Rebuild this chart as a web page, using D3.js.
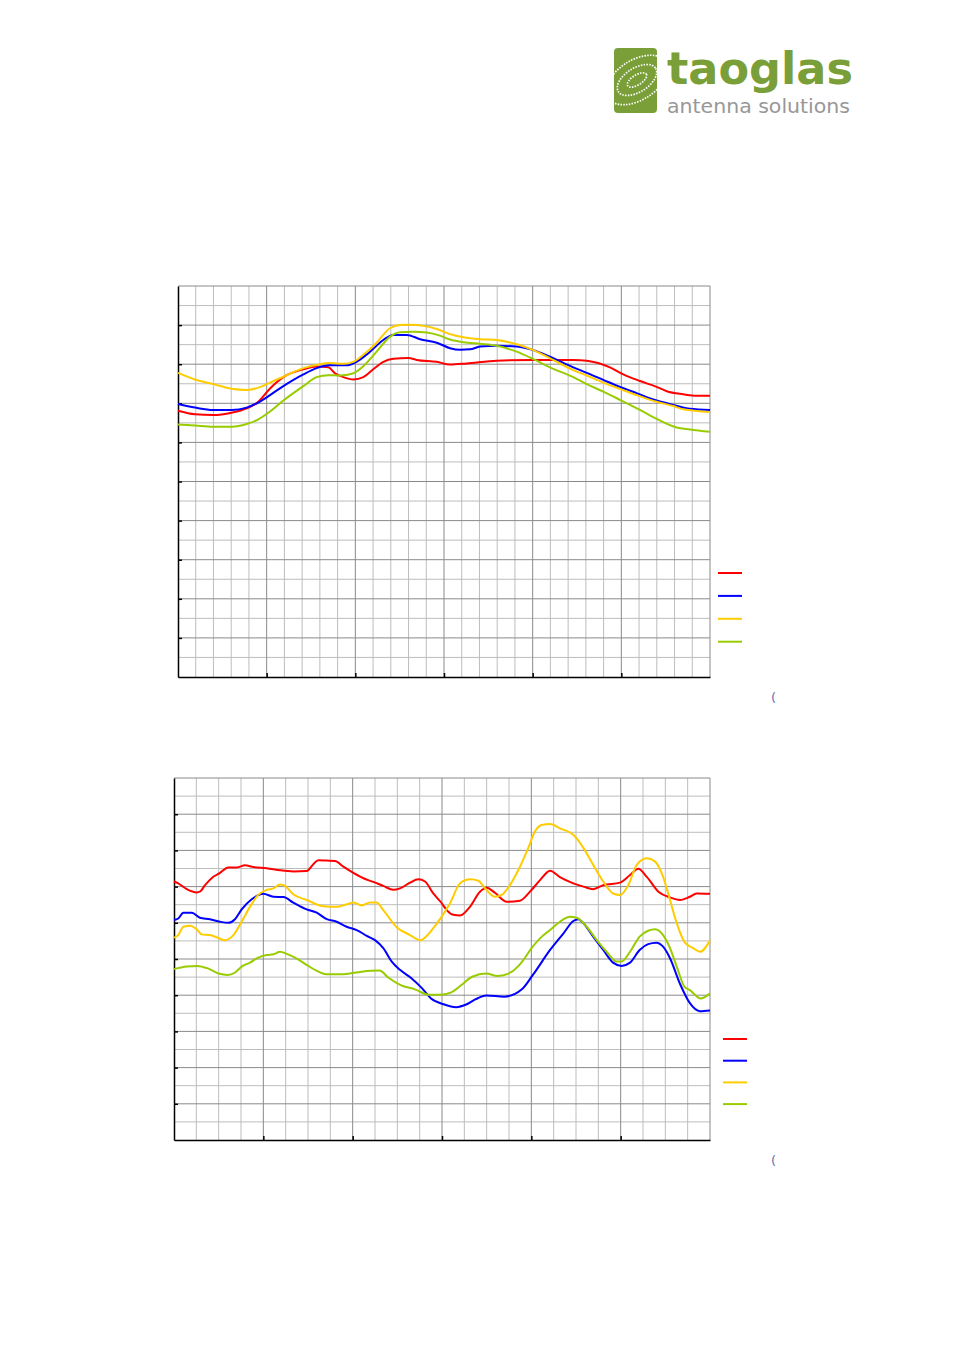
<!DOCTYPE html>
<html><head><meta charset="utf-8">
<script src="https://cdn.jsdelivr.net/npm/d3@7"></script>
<style>body{margin:0;background:#fff}svg{display:block}</style>
</head><body>
<svg id="c" width="954" height="1350"></svg>
<script>
// ---------- Chart 1 data (x: grid columns 0..30, y: 0..100) ----------
const c1Red = [[0,68.1],[0.96,67.2],[1.99,67.0],[3.03,67.6],[3.87,68.7],[4.53,70.4],[5.19,73.8],[5.94,76.7],[7.07,78.7],[7.82,79.4],[8.48,79.2],[8.85,77.7],[9.32,76.7],[9.89,76.1],[10.45,76.7],[11.01,78.7],[11.58,80.6],[12.14,81.4],[12.99,81.6],[13.46,81.1],[14.59,80.6],[15.34,79.9],[16.28,80.2],[17.97,80.9],[20.04,81.1],[22.29,81.1],[23.05,80.9],[24.36,79.2],[25.11,77.4],[26.05,75.7],[26.99,74.2],[27.56,73.1],[28.49,72.3],[29.25,71.9],[30,71.9]];
const c1Blue = [[0,69.8],[0.96,68.9],[1.99,68.3],[3.03,68.3],[3.87,68.9],[4.53,70.2],[5.19,72.1],[5.94,74.4],[7.07,77.4],[7.82,79.0],[8.56,79.7],[9.5,79.7],[9.98,80.4],[10.83,83.2],[11.58,86.2],[12.14,87.5],[12.9,87.5],[13.65,86.4],[14.59,85.5],[15.34,84.1],[15.9,83.7],[16.47,83.8],[17.03,84.5],[17.97,84.7],[19.1,84.5],[20.04,83.6],[20.98,81.9],[22.29,79.2],[23.05,77.8],[23.98,76.0],[24.92,74.2],[25.86,72.6],[26.99,70.7],[27.93,69.6],[28.87,68.6],[30,68.3]];
const c1Yellow = [[0,77.8],[0.96,76.1],[1.99,74.9],[3.03,73.7],[3.87,73.4],[4.53,74.0],[5.19,75.3],[5.94,76.8],[7.07,79.0],[7.82,79.8],[8.56,80.3],[9.32,80.1],[9.89,80.6],[10.45,82.4],[11.2,85.5],[11.95,89.2],[12.52,90.0],[13.08,90.1],[13.84,89.8],[14.59,89.0],[15.34,87.7],[16.09,86.9],[17.03,86.4],[17.97,86.2],[19.1,85.1],[20.04,83.6],[20.98,81.5],[22.29,78.5],[23.05,77.1],[23.98,75.3],[24.92,73.7],[25.86,72.1],[26.99,70.4],[27.93,69.3],[28.49,68.5],[30,67.8]];
const c1Green = [[0,64.6],[0.96,64.3],[1.99,64.0],[3.03,64.0],[3.87,64.7],[4.53,65.9],[5.19,67.9],[5.94,70.7],[7.07,74.4],[7.82,76.7],[8.48,77.2],[9.13,77.1],[9.89,77.7],[10.45,79.5],[11.2,83.2],[11.95,87.0],[12.52,88.2],[13.27,88.3],[14.02,88.1],[14.77,87.3],[15.34,86.3],[16.09,85.6],[17.03,85.2],[17.97,84.7],[19.1,83.2],[20.04,81.3],[20.98,79.2],[22.29,76.7],[23.05,74.9],[23.98,73.0],[24.92,70.9],[26.05,68.3],[26.99,66.0],[28.12,63.8],[28.87,63.3],[30,62.7]];

// ---------- Chart 2 data (x: grid columns 0..24, y: 0..100) ----------
const c2Red = [[0,71.4],[0.19,70.9],[0.57,69.3],[1.02,68.4],[1.16,68.6],[1.39,70.4],[1.76,72.7],[2.06,73.8],[2.43,75.3],[2.81,75.3],[3.18,75.9],[3.55,75.4],[4.15,75.1],[4.75,74.5],[5.34,74.2],[5.94,74.3],[6.24,76.2],[6.46,77.3],[6.84,77.2],[7.21,77.1],[7.58,75.5],[8.03,73.8],[8.48,72.3],[8.92,71.3],[9.37,70.2],[9.82,69.1],[10.12,69.5],[10.57,71.1],[10.94,72.0],[11.24,71.4],[11.61,68.1],[11.99,65.4],[12.21,63.5],[12.51,62.2],[12.81,62.0],[13.25,64.4],[13.7,68.6],[14.0,69.7],[14.37,68.3],[14.9,65.8],[15.49,66.1],[15.94,68.6],[16.39,71.8],[16.84,74.4],[17.28,72.6],[17.88,70.9],[18.33,70.0],[18.77,69.3],[19.22,70.4],[19.97,71.1],[20.42,73.2],[20.79,74.9],[21.17,72.7],[21.69,68.6],[22.21,67.0],[22.66,66.3],[23.1,67.2],[23.4,68.1],[24,68.0]];
const c2Blue = [[0,60.8],[0.19,61.2],[0.42,62.8],[0.8,62.8],[1.16,61.4],[1.61,61.0],[2.06,60.3],[2.43,60.0],[2.73,61.0],[3.03,63.7],[3.48,66.5],[4.0,68.0],[4.45,67.2],[4.9,67.1],[5.34,65.6],[5.94,63.7],[6.39,62.8],[6.84,61.0],[7.28,60.3],[7.73,58.9],[8.18,58.0],[8.63,56.4],[9.0,55.2],[9.37,53.0],[9.75,49.3],[10.12,47.0],[10.63,44.7],[11.11,41.9],[11.51,39.1],[12.07,37.5],[12.63,36.7],[13.11,37.5],[13.51,38.9],[13.99,39.9],[14.79,39.6],[15.59,41.7],[16.07,45.6],[16.84,52.5],[17.44,57.1],[17.88,60.5],[18.1,61.0],[18.33,59.9],[18.77,56.2],[19.22,52.5],[19.66,49.0],[20.04,48.1],[20.42,49.0],[20.85,52.5],[21.23,54.1],[21.6,54.5],[21.9,53.4],[22.21,50.2],[22.66,43.1],[23.1,37.8],[23.54,35.6],[24,35.8]];
const c2Yellow = [[0,55.9],[0.19,56.6],[0.42,58.9],[0.72,59.2],[1.02,58.2],[1.24,56.8],[1.61,56.6],[1.91,56.0],[2.28,55.2],[2.66,56.6],[3.03,60.3],[3.4,64.4],[3.77,67.7],[4.15,69.1],[4.45,69.5],[4.75,70.6],[4.97,70.2],[5.34,67.9],[5.94,66.3],[6.68,64.6],[7.28,64.4],[7.73,65.1],[8.03,65.6],[8.4,64.8],[8.78,65.6],[9.07,65.6],[9.37,63.5],[9.97,58.8],[10.57,56.6],[11.02,55.2],[11.61,58.5],[11.91,61.0],[12.36,65.4],[12.81,70.9],[13.25,72.0],[13.63,71.6],[13.93,69.5],[14.37,67.2],[14.67,67.7],[15.04,70.4],[15.49,75.5],[15.86,80.6],[16.16,85.2],[16.46,87.0],[16.84,87.3],[17.28,86.1],[17.88,84.3],[18.33,80.7],[18.77,76.0],[19.22,71.4],[19.66,68.1],[19.97,67.7],[20.34,70.4],[20.72,76.0],[21.17,77.8],[21.54,76.9],[21.9,72.7],[22.21,66.3],[22.51,59.9],[22.88,54.5],[23.25,53.0],[23.55,52.0],[24,55.1]];
const c2Green = [[0,47.2],[0.56,47.9],[1.04,48.1],[1.52,47.4],[2.0,46.0],[2.4,45.6],[2.72,46.2],[3.03,47.9],[3.4,49.0],[3.77,50.4],[4.15,51.1],[4.45,51.3],[4.75,52.0],[5.05,51.4],[5.5,50.1],[5.96,48.3],[6.47,46.5],[6.8,45.8],[7.6,45.8],[8.4,46.5],[9.2,46.8],[9.59,44.9],[10.15,42.8],[10.79,41.6],[11.43,40.1],[11.91,40.1],[12.39,40.7],[12.87,42.8],[13.35,45.1],[13.99,46.0],[14.47,45.3],[14.95,45.9],[15.43,48.1],[15.64,49.7],[16.01,53.0],[16.39,55.7],[16.84,58.0],[17.28,60.3],[17.73,61.7],[18.03,61.4],[18.48,58.9],[18.93,55.2],[19.37,52.0],[19.82,49.3],[20.04,49.3],[20.42,52.0],[20.85,56.2],[21.23,57.8],[21.54,58.2],[21.9,56.6],[22.21,53.0],[22.51,47.9],[22.86,42.3],[23.1,41.4],[23.58,39.1],[24,40.5]];

const seriesColors = ["#ff0000","#0000ff","#ffcc00","#99cc00"];

const svg = d3.select("#c");

// ---------- Logo ----------
const logo = svg.append("g");
logo.append("rect").attr("x",614).attr("y",48).attr("width",43).attr("height",65).attr("rx",4).attr("fill","#7a9f38");
logo.append("clipPath").attr("id","lc").append("rect").attr("x",614).attr("y",48).attr("width",43).attr("height",65).attr("rx",4);
const lg = logo.append("g").attr("clip-path","url(#lc)");
[[34,20],[22,12],[11,5]].forEach(([rx,ry])=>{
  lg.append("ellipse").attr("cx",637).attr("cy",80).attr("rx",rx).attr("ry",ry)
    .attr("transform","rotate(-32 637 80)").attr("fill","none").attr("stroke","#fff")
    .attr("stroke-width",1.7).attr("stroke-dasharray","1.5 1.3");
});
logo.append("text").attr("x",667).attr("y",83.5).attr("font-family","DejaVu Sans").attr("font-weight","bold")
  .attr("font-size",45).attr("fill","#7a9f38").attr("textLength",186).attr("lengthAdjust","spacingAndGlyphs").text("taoglas");
logo.append("text").attr("x",667).attr("y",113).attr("font-family","DejaVu Sans")
  .attr("font-size",19).attr("fill","#979797").attr("textLength",183).attr("lengthAdjust","spacingAndGlyphs").text("antenna solutions");

// ---------- chart drawing ----------
function drawChart(cfg){
  const {x0,x1,y0,y1,nx,minorPerMajorX,series,legendX,legendY,legendGap,parenX,parenY} = cfg;
  const x = d3.scaleLinear().domain([0,nx]).range([x0,x1]);
  const y = d3.scaleLinear().domain([0,100]).range([y1,y0]);
  const g = svg.append("g");
  const xMinor = d3.range(1,nx).filter(v=>v%minorPerMajorX!==0);
  const xMajor = d3.range(minorPerMajorX,nx,minorPerMajorX);
  const yMinor = d3.range(5,100,10);
  const yMajor = d3.range(10,100,10);
  g.selectAll(".vm").data(xMinor).join("line").attr("x1",d=>x(d)).attr("x2",d=>x(d)).attr("y1",y0).attr("y2",y1).attr("stroke","#bdbdbd").attr("stroke-width",1);
  g.selectAll(".hm").data(yMinor).join("line").attr("x1",x0).attr("x2",x1).attr("y1",d=>y(d)).attr("y2",d=>y(d)).attr("stroke","#bdbdbd").attr("stroke-width",1);
  g.selectAll(".vM").data(xMajor).join("line").attr("x1",d=>x(d)).attr("x2",d=>x(d)).attr("y1",y0).attr("y2",y1).attr("stroke","#8a8a8a").attr("stroke-width",1);
  g.selectAll(".hM").data(yMajor).join("line").attr("x1",x0).attr("x2",x1).attr("y1",d=>y(d)).attr("y2",d=>y(d)).attr("stroke","#8a8a8a").attr("stroke-width",1);
  g.append("line").attr("x1",x0).attr("x2",x1).attr("y1",y0).attr("y2",y0).attr("stroke","#8a8a8a");
  g.append("line").attr("x1",x1).attr("x2",x1).attr("y1",y0).attr("y2",y1).attr("stroke","#8a8a8a");
  const ax = g.append("g").attr("transform",`translate(0,${y1})`)
    .call(d3.axisBottom(x).tickValues(xMajor).tickSize(-4).tickSizeOuter(0).tickFormat(""));
  const ay = g.append("g").attr("transform",`translate(${x0},0)`)
    .call(d3.axisLeft(y).tickValues(yMajor).tickSize(-4).tickSizeOuter(0).tickFormat(""));
  [ax,ay].forEach(a=>{a.selectAll("path,line").attr("stroke","#000").attr("stroke-width",1.5);});
  const line = d3.line().x(d=>x(d[0])).y(d=>y(d[1])).curve(d3.curveMonotoneX);
  series.forEach((s,i)=>{
    g.append("path").datum(s).attr("d",line).attr("fill","none").attr("stroke",seriesColors[i]).attr("stroke-width",2).attr("stroke-linejoin","round");
  });
  seriesColors.forEach((c,i)=>{
    g.append("line").attr("x1",legendX).attr("x2",legendX+24).attr("y1",legendY+i*legendGap).attr("y2",legendY+i*legendGap).attr("stroke",c).attr("stroke-width",2);
  });
  g.append("text").attr("x",parenX).attr("y",parenY).attr("font-family","DejaVu Sans").attr("font-size",13).attr("fill","#6a6ab0").text("(");
}

drawChart({x0:178,x1:710,y0:286,y1:677,nx:30,minorPerMajorX:5,series:[c1Red,c1Blue,c1Yellow,c1Green],
  legendX:718,legendY:573,legendGap:22.9,parenX:771,parenY:702});
drawChart({x0:174,x1:710,y0:778,y1:1140,nx:24,minorPerMajorX:4,series:[c2Red,c2Blue,c2Yellow,c2Green],
  legendX:723,legendY:1039,legendGap:21.7,parenX:771,parenY:1165});
</script>
</body></html>
